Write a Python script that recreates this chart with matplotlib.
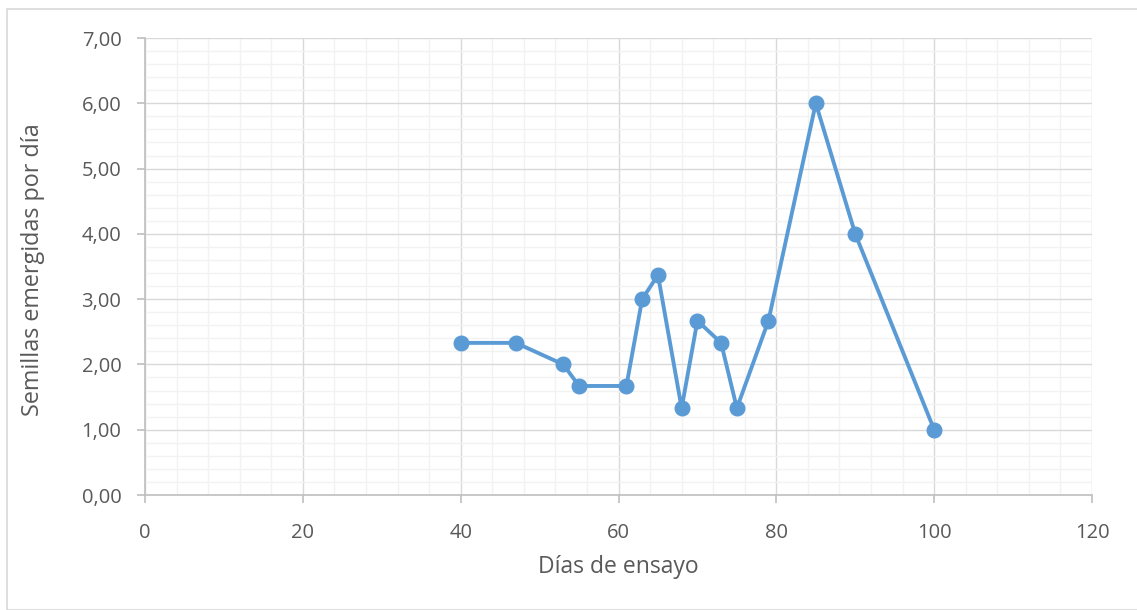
import matplotlib
matplotlib.use("Agg")
import matplotlib.pyplot as plt
from matplotlib.patches import Rectangle
from matplotlib.ticker import MultipleLocator, FuncFormatter

# Emergence data: trial day vs. seeds emerged per day
dias = [40, 47, 53, 55, 61, 63, 65, 68, 70, 73, 75, 79, 85, 90, 100]
semillas = [2.33, 2.33, 2.00, 1.67, 1.67, 3.00, 3.37, 1.33, 2.67, 2.33, 1.33, 2.67, 6.00, 4.00, 1.00]

x_label = "Días de ensayo"
y_label = "Semillas emergidas por día"

plt.rcParams["font.family"] = ["Open Sans", "DejaVu Sans"]

W, H = 1137, 610
fig = plt.figure(figsize=(W / 100, H / 100), dpi=100)

# Chart frame
fig.patches.append(Rectangle((7 / W, 0), 1.0, 1 - 9 / H, transform=fig.transFigure,
                             fill=False, edgecolor="#d9d9d9", linewidth=1.2))

ax = fig.add_axes([145 / W, 1 - 495 / H, (1092 - 145) / W, (495 - 38) / H])

line_color = "#5b9bd5"
ax.plot(dias, semillas, color=line_color, linewidth=2.8, marker="o",
        markersize=10.5, markerfacecolor=line_color, markeredgecolor=line_color,
        zorder=3, clip_on=False)

ax.set_xlim(0, 120)
ax.set_ylim(0, 7)
ax.xaxis.set_major_locator(MultipleLocator(20))
ax.xaxis.set_minor_locator(MultipleLocator(4))
ax.yaxis.set_major_locator(MultipleLocator(1))
ax.yaxis.set_minor_locator(MultipleLocator(0.2))
ax.yaxis.set_major_formatter(FuncFormatter(lambda v, p: f"{v:.2f}".replace(".", ",")))

ax.grid(which="minor", color="#f2f2f2", linewidth=1.0, zorder=0)
ax.grid(which="major", color="#d9d9d9", linewidth=1.0, zorder=1)
ax.set_axisbelow(True)

for side in ("top", "right"):
    ax.spines[side].set_visible(False)
for side in ("left", "bottom"):
    ax.spines[side].set_color("#bfbfbf")
    ax.spines[side].set_linewidth(1.2)

ax.tick_params(which="major", direction="out", length=6, width=1.2, color="#bfbfbf",
               labelcolor="#595959", labelsize=14.5, pad=11)
ax.tick_params(axis="x", which="major", pad=14)
ax.tick_params(which="minor", length=0)

ax.set_xlabel(x_label, fontsize=16.5, color="#595959")
ax.set_ylabel(y_label, fontsize=16.8, color="#595959")
ax.xaxis.set_label_coords(0.5, -(567 - 495) / (495 - 38), transform=ax.transAxes)
ax.xaxis.label.set_va("center")
ax.yaxis.set_label_coords(-(145 - 33) / (1092 - 145), (495 - 270) / (495 - 38),
                          transform=ax.transAxes)
ax.yaxis.label.set_va("center")

fig.savefig("out.png", dpi=100)
